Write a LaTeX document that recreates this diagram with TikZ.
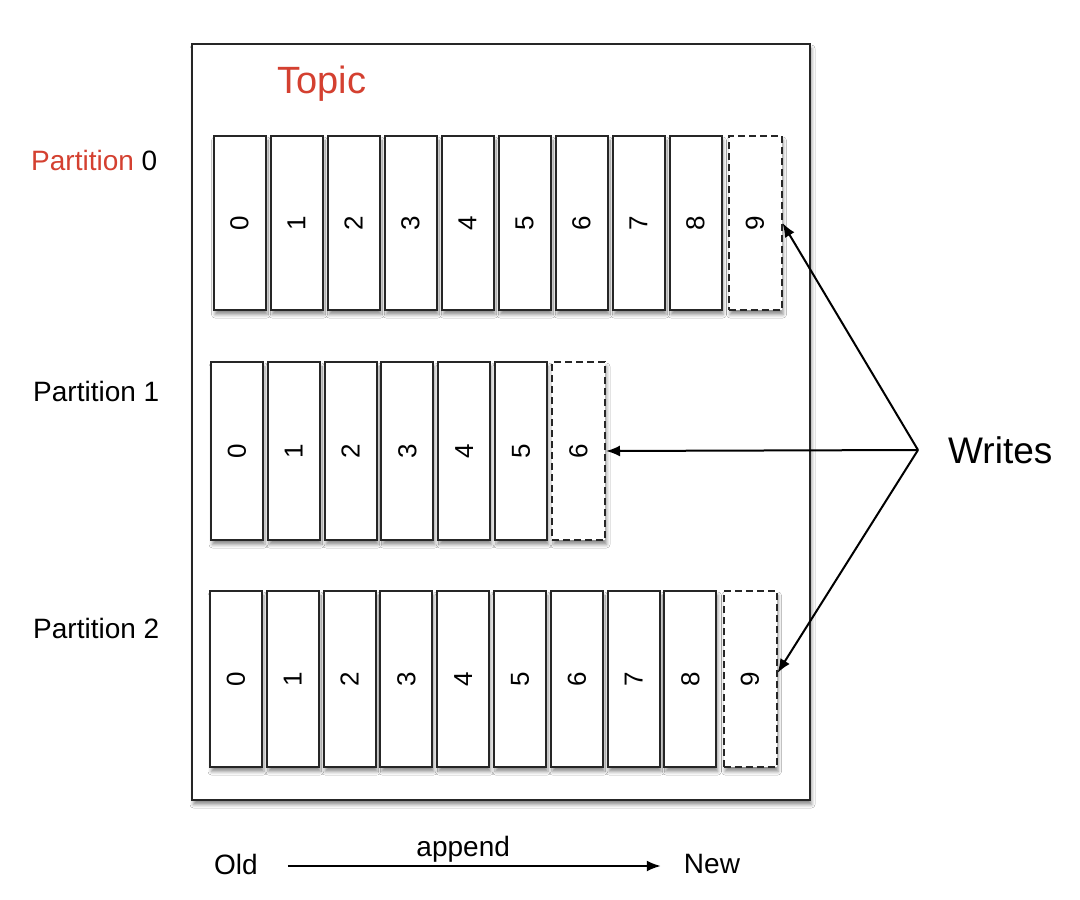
\documentclass[tikz,border=0pt]{standalone}
\usepackage{fontspec}
\setmainfont{Liberation Sans}
\usetikzlibrary{arrows.meta,shadows.blur}
\definecolor{topicred}{RGB}{212,64,48}
\begin{document}
\begin{tikzpicture}[x=1pt,y=-1pt,
  shd/.style={blur shadow={shadow xshift=1.5pt, shadow yshift=-4.5pt, shadow opacity=45, shadow blur radius=3.5pt}},
  cell/.style={draw=black!85, line width=2pt, fill=white, minimum width=52pt, inner sep=0pt, shd,
    font=\fontsize{26}{26}\selectfont},
  newcell/.style={cell, dash pattern=on 7pt off 4pt, minimum width=53pt},
  plabel/.style={anchor=west, inner sep=0pt, font=\fontsize{28}{28}\selectfont},
  txt/.style={inner sep=0pt, font=\fontsize{28}{28}\selectfont},
  arr/.style={line width=2pt, -{Latex[length=14pt,width=11pt]}}
]
\useasboundingbox[fill=white] (0,0) rectangle (1080,900);

% topic box
\node[draw=black!85, line width=2.2pt, fill=white, minimum width=618pt, minimum height=756pt, inner sep=0pt, shd] (topic) at (501,422) {};
\node[txt, text=topicred, font=\fontsize{38}{38}\selectfont] (title) at (322,84) {Topic};

% partition labels
\node[plabel] (lp0) at (31,160) {\textcolor{topicred}{Partition} 0};
\node[plabel] (lp1) at (33,391) {Partition 1};
\node[plabel] (lp2) at (33,628) {Partition 2};

% partition 0
\foreach \i in {0,...,8}
  \node[cell, minimum height=174pt] (p0c\i) at ({239.5+57*\i},223) {\rotatebox{90}{\i}};
\node[newcell, minimum height=174pt] (p0c9) at (755,223) {\rotatebox{90}{9}};

% partition 1
\foreach \i in {0,...,5}
  \node[cell, minimum height=178pt] (p1c\i) at ({237+56.8*\i},451) {\rotatebox{90}{\i}};
\node[newcell, minimum height=178pt] (p1c6) at (578.5,451) {\rotatebox{90}{6}};

% partition 2
\foreach \i in {0,...,8}
  \node[cell, minimum height=176pt] (p2c\i) at ({236+56.8*\i},679) {\rotatebox{90}{\i}};
\node[newcell, minimum height=176pt] (p2c9) at (750,679) {\rotatebox{90}{9}};

% writes
\node[txt, anchor=west, font=\fontsize{37}{37}\selectfont] (writes) at (948,450) {Writes};
\coordinate (w) at (918,450);
\draw[arr] (w) -- (p0c9.east);
\draw[arr] (w) -- (p1c6.east);
\draw[arr] (w) -- ([yshift=6pt]p2c9.east);

% old -> new
\node[txt] (old) at (236,864) {Old};
\node[txt] (new) at (712,864) {New};
\draw[arr] ([xshift=30pt,yshift=-2pt]old.east) -- node[pos=0.47, above=3pt, txt] (append) {append} ([xshift=-23pt,yshift=-2pt]new.west);
\end{tikzpicture}
\end{document}
